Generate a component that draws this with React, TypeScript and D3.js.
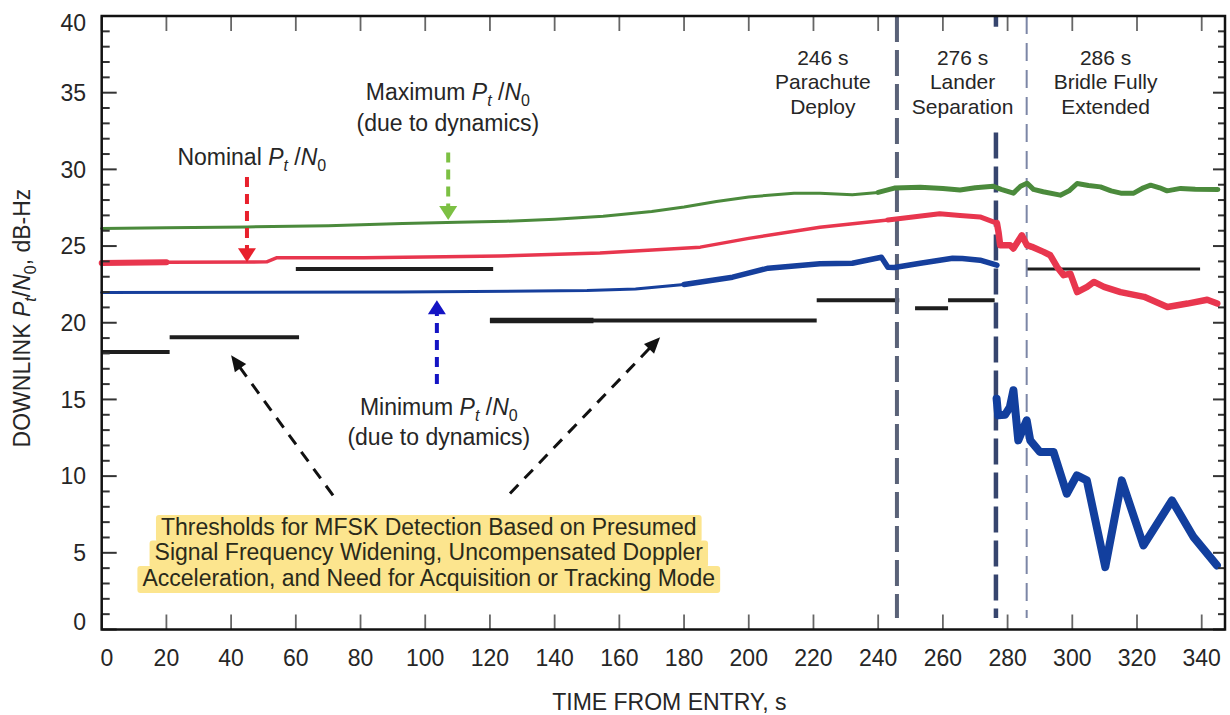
import { useEffect, useRef } from 'react';
import * as d3 from 'd3';

const W = 1230;
const H = 715;

// threshold segments: start, end (s) and level (dB-Hz)
const thresholdStart = [0, 21, 60, 120, 221, 251.4, 261.6, 286];
const thresholdEnd = [21, 61, 121, 221, 246.5, 261.6, 276, 339.5];
const thresholdLevel = [18.1, 19.05, 23.5, 20.15, 21.47, 20.95, 21.47, 23.5];

// maximum Pt/N0 (green)
const greenTime = [0, 20, 45, 70, 93, 110, 125, 140, 155, 170, 180, 190, 200, 214, 222, 232, 240, 245, 253, 260, 265.3, 270, 275.6, 278, 281.8, 284, 286, 288, 291, 296.3, 299, 301.5, 305, 308.7, 312, 315, 319, 322, 324.2, 327, 329.3, 333.5, 338, 345];
const greenValue = [26.15, 26.2, 26.25, 26.32, 26.47, 26.55, 26.62, 26.75, 26.95, 27.25, 27.55, 27.9, 28.2, 28.45, 28.45, 28.35, 28.5, 28.78, 28.84, 28.75, 28.65, 28.8, 28.9, 28.7, 28.45, 28.9, 29.1, 28.7, 28.54, 28.32, 28.6, 29.08, 28.95, 28.86, 28.6, 28.45, 28.45, 28.8, 28.97, 28.8, 28.6, 28.76, 28.7, 28.69];

// nominal Pt/N0 (red)
const redTime = [0, 20, 51, 54, 81, 106, 123, 154, 185, 200, 222, 243, 259, 265.3, 271.5, 275.6, 276.7, 277.2, 277.7, 280.8, 281.8, 284.4, 286, 287.5, 291.1, 293.2, 295.3, 297.3, 299.4, 301.5, 304.6, 306.7, 309.8, 314.9, 322.2, 329.4, 335.6, 341.7, 344.8];
const redValue = [23.9, 23.95, 23.97, 24.23, 24.23, 24.3, 24.35, 24.54, 24.93, 25.5, 26.23, 26.7, 27.1, 27.0, 26.9, 26.58, 26.5, 25.9, 25.06, 25.06, 24.84, 25.7, 25.06, 24.95, 24.62, 24.4, 23.64, 23.1, 23.2, 22.0, 22.34, 22.66, 22.34, 22.0, 21.69, 21.03, 21.25, 21.5, 21.25];

// minimum Pt/N0 (blue), before and after lander separation
const blueTime = [0, 92, 150, 165, 170, 180, 195, 206, 222, 232, 241, 243, 245, 253, 263, 266, 271.5, 276.7];
const blueValue = [21.97, 22.0, 22.1, 22.2, 22.3, 22.5, 22.97, 23.56, 23.85, 23.88, 24.27, 23.62, 23.6, 23.88, 24.2, 24.19, 24.08, 23.75];
const blueAfterTime = [276.6, 277.1, 279.2, 280.7, 281.8, 283.3, 285.9, 287, 290, 294.2, 298.3, 301.4, 304.5, 310.2, 315.3, 322, 330.8, 337.5, 344.7];
const blueAfterValue = [15.05, 13.96, 14.0, 14.5, 15.6, 12.33, 13.64, 12.33, 11.57, 11.57, 8.85, 10.05, 9.72, 4.07, 9.72, 5.48, 8.42, 6.02, 4.18];

const eventTimes = [245.8, 276.4, 285.9];
const eventLabels = [['246 s', 'Parachute', 'Deploy'], ['276 s', 'Lander', 'Separation'], ['286 s', 'Bridle Fully', 'Extended']];
const xTicks = d3.range(0, 341, 20);
const yMinor = d3.range(0, 41, 1);
const yMajor = d3.range(0, 41, 5);
const legendLines = [
    'Thresholds for MFSK Detection Based on Presumed',
    'Signal Frequency Widening, Uncompensated Doppler',
    'Acceleration, and Need for Acquisition or Tracking Mode',
];

const FONT = '"Liberation Sans", Arial, Helvetica, sans-serif';
const TXT = '#262626';

export default function App() {
    const svgRef = useRef<SVGSVGElement | null>(null);

    useEffect(() => {
        if (!svgRef.current) return;
        const svg = d3.select(svgRef.current);
        svg.selectAll('*').remove();

        const x = d3.scaleLinear().domain([0, 347.2]).range([101.7, 1225]);
        const y = d3.scaleLinear().domain([0, 40]).range([629.5, 16]);

        const g = svg.append('g').attr('font-family', FONT).attr('font-size', 23).attr('fill', TXT);

        // Pt/N0 rich text helper
        const ptn0 = (t: d3.Selection<SVGTextElement, unknown, null, undefined>, prefix: string, suffix = '', tight = false) => {
            t.append('tspan').text(prefix);
            t.append('tspan').attr('font-style', 'italic').text('P');
            t.append('tspan').attr('font-style', 'italic').attr('font-size', 16).attr('dy', 6).text('t');
            t.append('tspan').attr('dy', -6).text(tight ? '/' : ' /');
            t.append('tspan').attr('font-style', 'italic').text('N');
            t.append('tspan').attr('font-size', 16).attr('dy', 6).text('0');
            if (suffix) t.append('tspan').attr('dy', -6).text(suffix);
        };

        // legend highlight + text (drawn first so everything sits above)
        legendLines.forEach((line, i) => {
            const t = g.append('text')
                .attr('x', x(101.1))
                .attr('y', y(6.16 - i * 1.66))
                .attr('text-anchor', 'middle')
                .attr('fill', '#2a2a1a')
                .text(line);
            const len = (t.node() as SVGTextElement).getComputedTextLength();
            g.insert('rect', 'text')
                .attr('x', x(101.1) - len / 2 - 5)
                .attr('y', y(6.16 - i * 1.66) - 20)
                .attr('width', len + 10)
                .attr('height', 27)
                .attr('rx', 3)
                .attr('fill', '#fce58e');
        });

        // threshold segments
        g.selectAll('.thr')
            .data(thresholdStart)
            .join('line')
            .attr('class', 'thr')
            .attr('x1', (d) => x(d))
            .attr('x2', (_, i) => x(thresholdEnd[i]))
            .attr('y1', (_, i) => y(thresholdLevel[i]))
            .attr('y2', (_, i) => y(thresholdLevel[i]))
            .attr('stroke', '#1e1e1e')
            .attr('stroke-width', (_, i) => (i === 7 ? 3 : 4));
        g.append('line')
            .attr('x1', x(120)).attr('x2', x(152))
            .attr('y1', y(20.15)).attr('y2', y(20.15))
            .attr('stroke', '#1e1e1e').attr('stroke-width', 5.5);

        // event dashed lines
        const evStyle = [
            { color: '#5a6278', w: 4, dash: '26,8', gap: null as number | null },
            { color: '#36456e', w: 4.5, dash: '26,8', gap: 32.4 as number | null },
            { color: '#7c86a6', w: 2, dash: '18,9', gap: null as number | null },
        ];
        eventTimes.forEach((t, i) => {
            const s = evStyle[i];
            const xt = x(t);
            if (s.gap !== null) {
                g.append('line').attr('x1', xt).attr('x2', xt).attr('y1', y(40)).attr('y2', y(39.3))
                    .attr('stroke', s.color).attr('stroke-width', s.w);
            }
            g.append('line').attr('x1', xt).attr('x2', xt).attr('y1', y(s.gap ?? 40)).attr('y2', y(0.75))
                .attr('stroke', s.color).attr('stroke-width', s.w).attr('stroke-dasharray', s.dash);
            const cx = x([222.9, 266.1, 310.3][i]);
            eventLabels[i].forEach((lab, j) => {
                g.append('text')
                    .attr('x', cx)
                    .attr('y', y([36.81, 35.21, 33.61][j]))
                    .attr('text-anchor', 'middle')
                    .attr('font-size', 21)
                    .text(lab);
            });
        });

        // series
        const drawSeries = (times: number[], values: number[], color: string, ranges: [number, number, number][]) => {
            ranges.forEach(([t0, t1, w]) => {
                const pts = times.map((t, i) => [t, values[i]] as [number, number]).filter((p) => p[0] >= t0 && p[0] <= t1);
                const line = d3.line<[number, number]>().x((p) => x(p[0])).y((p) => y(p[1]));
                g.append('path')
                    .attr('d', line(pts))
                    .attr('fill', 'none')
                    .attr('stroke', color)
                    .attr('stroke-width', w)
                    .attr('stroke-linejoin', 'round')
                    .attr('stroke-linecap', 'round');
            });
        };
        drawSeries(greenTime, greenValue, '#4b8a3c', [[0, 240, 3], [240, 350, 5]]);
        drawSeries(redTime, redValue, '#e8364e', [[0, 20, 6], [20, 243, 3.5], [243, 276.7, 5], [276.7, 350, 6.5]]);
        drawSeries(blueTime, blueValue, '#163f9c', [[0, 180, 3], [180, 280, 5.5]]);
        drawSeries(blueAfterTime, blueAfterValue, '#123f9e', [[270, 350, 8]]);

        // arrows
        const arrow = (x0: number, y0: number, x1: number, y1: number, color: string, w: number, dash: string, hl: number, hw: number) => {
            const px0 = x(x0), py0 = y(y0), px1 = x(x1), py1 = y(y1);
            const dx = px1 - px0, dy = py1 - py0;
            const L = Math.hypot(dx, dy);
            const ux = dx / L, uy = dy / L;
            const bx = px1 - ux * hl, by = py1 - uy * hl;
            g.append('line')
                .attr('x1', px0).attr('y1', py0).attr('x2', bx + ux * 2).attr('y2', by + uy * 2)
                .attr('stroke', color).attr('stroke-width', w).attr('stroke-dasharray', dash);
            g.append('polygon')
                .attr('points', `${px1},${py1} ${bx - uy * hw},${by + ux * hw} ${bx + uy * hw},${by - ux * hw}`)
                .attr('fill', color);
        };
        arrow(44.9, 29.5, 44.9, 23.95, '#e8202c', 4, '10,7', 14, 9);
        arrow(107.1, 31.1, 107.1, 26.7, '#7cc043', 4, '10,7', 14, 9);
        arrow(103.6, 16.0, 103.6, 21.47, '#1414c4', 4, '10,7', 14, 9);
        arrow(71.5, 8.74, 40.0, 17.88, '#111', 3, '12,9', 16, 7);
        arrow(126.2, 8.87, 172.6, 19.05, '#111', 3, '12,9', 16, 7);

        // annotations
        ptn0(g.append('text').attr('x', x(46.4)).attr('y', y(30.3)).attr('text-anchor', 'middle'), 'Nominal ');
        ptn0(g.append('text').attr('x', x(107)).attr('y', y(34.5)).attr('text-anchor', 'middle'), 'Maximum ');
        g.append('text').attr('x', x(107)).attr('y', y(32.5)).attr('text-anchor', 'middle').text('(due to dynamics)');
        ptn0(g.append('text').attr('x', x(104.2)).attr('y', y(14.0)).attr('text-anchor', 'middle'), 'Minimum ');
        g.append('text').attr('x', x(104.2)).attr('y', y(12.03)).attr('text-anchor', 'middle').text('(due to dynamics)');

        // ticks
        const [xl, xr] = x.range();
        const [yb, yt] = y.range();
        yMinor.forEach((v) => {
            const len = v % 5 === 0 ? 15 : 8;
            g.append('line').attr('x1', xl).attr('x2', xl + len).attr('y1', y(v)).attr('y2', y(v))
                .attr('stroke', '#333').attr('stroke-width', 2);
            g.append('line').attr('x1', xr).attr('x2', xr - (v % 5 === 0 ? 12 : 7)).attr('y1', y(v)).attr('y2', y(v))
                .attr('stroke', '#333').attr('stroke-width', 2);
        });
        yMajor.forEach((v) => {
            g.append('text')
                .attr('x', 86)
                .attr('y', Math.min(Math.max(y(v), 23), 622))
                .attr('dy', '0.36em')
                .attr('text-anchor', 'end')
                .text(String(v));
        });
        xTicks.forEach((v) => {
            g.append('line').attr('x1', x(v)).attr('x2', x(v)).attr('y1', yb).attr('y2', yb - 15)
                .attr('stroke', '#666').attr('stroke-width', 1.8);
            g.append('line').attr('x1', x(v)).attr('x2', x(v)).attr('y1', yt).attr('y2', yt + 15)
                .attr('stroke', '#666').attr('stroke-width', 1.8);
            g.append('text')
                .attr('x', Math.max(x(v), 107))
                .attr('y', 666)
                .attr('text-anchor', 'middle')
                .text(String(v));
        });

        // frame
        g.append('rect')
            .attr('x', xl).attr('y', yt)
            .attr('width', xr - xl).attr('height', yb - yt)
            .attr('fill', 'none').attr('stroke', '#111').attr('stroke-width', 2.5);

        // axis titles
        g.append('text')
            .attr('x', (xl + xr) / 2 + 6)
            .attr('y', 710)
            .attr('text-anchor', 'middle')
            .text('TIME FROM ENTRY, s');
        ptn0(
            g.append('text')
                .attr('transform', 'translate(30, 318) rotate(-90)')
                .attr('text-anchor', 'middle'),
            'DOWNLINK ', ', dB-Hz', true,
        );
    }, []);

    return (
        <svg
            ref={svgRef}
            width={W}
            height={H}
            style={{ position: 'absolute', left: 0, top: 0, background: '#fff' }}
        />
    );
}
